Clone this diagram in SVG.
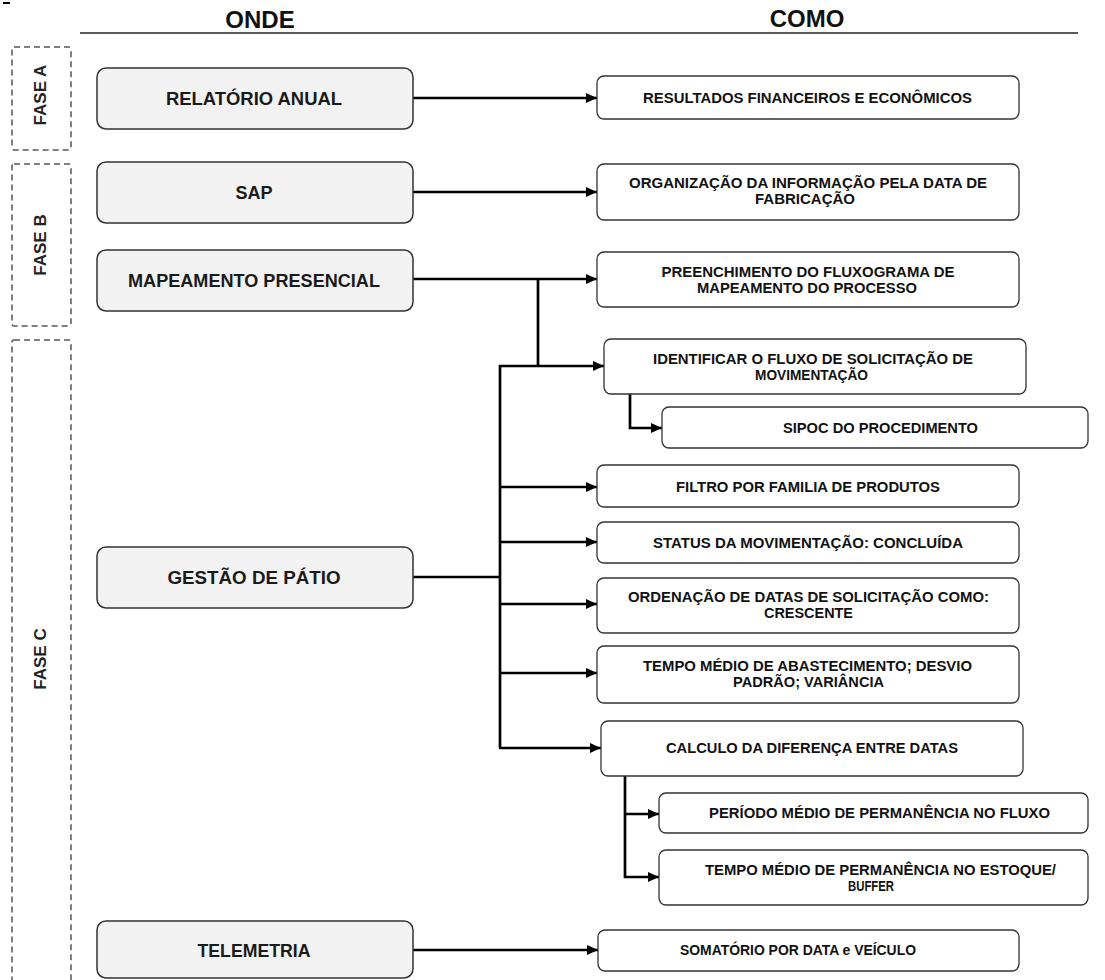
<svg xmlns="http://www.w3.org/2000/svg" width="1105" height="980" viewBox="0 0 1105 980">
<style>
.hdr{font-family:"Liberation Sans",Arial,sans-serif;font-weight:bold;font-size:24px;fill:#111;text-anchor:middle}
.phase{fill:none;stroke:#555;stroke-width:1.5;stroke-dasharray:6 4}
.ph{font-family:"Liberation Sans",Arial,sans-serif;font-weight:bold;font-size:17px;fill:#222;text-anchor:middle}
.lbox{fill:#f2f2f2;stroke:#333;stroke-width:1.5}
.rbox{fill:#fff;stroke:#333;stroke-width:1.3}
.lt{font-family:"Liberation Sans",Arial,sans-serif;font-weight:bold;font-size:18px;fill:#1a1a1a;text-anchor:middle}
.rt{font-family:"Liberation Sans",Arial,sans-serif;font-weight:bold;font-size:14px;fill:#111;text-anchor:middle}
.con{fill:none;stroke:#000;stroke-width:2.7}
</style>
<defs>
<marker id="ah" markerUnits="userSpaceOnUse" markerWidth="12" markerHeight="10" refX="11" refY="5" orient="auto">
<path d="M0,0 L11,5 L0,10 z" fill="#000"/>
</marker>
</defs>
<rect x="0" y="0" width="1105" height="980" fill="#fff"/>
<rect x="3" y="2" width="7" height="2" fill="#000"/>
<g id="header">
<text class="hdr" x="260" y="28">ONDE</text>
<text class="hdr" x="807" y="27">COMO</text>
<line x1="80" y1="33" x2="1078" y2="33" stroke="#222" stroke-width="1.5"/>
</g>
<g id="faseA">
<rect class="phase" x="12" y="47" width="59" height="103" rx="2"/>
<text class="ph" transform="translate(46,95) rotate(-90)">FASE A</text>
</g>
<g id="faseB">
<rect class="phase" x="12" y="164" width="59" height="162" rx="2"/>
<text class="ph" transform="translate(46,245) rotate(-90)">FASE B</text>
</g>
<g id="faseC">
<rect class="phase" x="12" y="340" width="59" height="660" rx="2"/>
<text class="ph" transform="translate(46,659) rotate(-90)">FASE C</text>
</g>
<g id="connectors">
<path class="con" d="M413,98 H597" marker-end="url(#ah)"/>
<path class="con" d="M413,192 H597" marker-end="url(#ah)"/>
<path class="con" d="M413,279 H597" marker-end="url(#ah)"/>
<path class="con" d="M538,279 V366"/>
<path class="con" d="M413,577 H500"/>
<path class="con" d="M500,748 V366 H604" marker-end="url(#ah)"/>
<path class="con" d="M630,394 V428 H662" marker-end="url(#ah)"/>
<path class="con" d="M500,487 H597" marker-end="url(#ah)"/>
<path class="con" d="M500,542 H597" marker-end="url(#ah)"/>
<path class="con" d="M500,604 H597" marker-end="url(#ah)"/>
<path class="con" d="M500,673 H597" marker-end="url(#ah)"/>
<path class="con" d="M499,748 H601" marker-end="url(#ah)"/>
<path class="con" d="M625,776 V877 H659" marker-end="url(#ah)"/>
<path class="con" d="M625,814 H659" marker-end="url(#ah)"/>
<path class="con" d="M413,950 H598" marker-end="url(#ah)"/>
</g>
<g id="relatorio">
<rect class="lbox" x="97" y="68" width="316" height="61" rx="9"/>
<text class="lt" x="254" y="105" textLength="176" lengthAdjust="spacingAndGlyphs">RELATÓRIO ANUAL</text>
</g>
<g id="sap">
<rect class="lbox" x="97" y="162" width="316" height="61" rx="9"/>
<text class="lt" x="254" y="199">SAP</text>
</g>
<g id="mapeamento">
<rect class="lbox" x="97" y="250" width="316" height="61" rx="9"/>
<text class="lt" x="254" y="287" textLength="252" lengthAdjust="spacingAndGlyphs">MAPEAMENTO PRESENCIAL</text>
</g>
<g id="gestao">
<rect class="lbox" x="97" y="547" width="316" height="61" rx="9"/>
<text class="lt" x="254" y="584" textLength="173" lengthAdjust="spacingAndGlyphs">GESTÃO DE PÁTIO</text>
</g>
<g id="telemetria">
<rect class="lbox" x="97" y="921" width="316" height="57" rx="9"/>
<text class="lt" x="254" y="957" textLength="113" lengthAdjust="spacingAndGlyphs">TELEMETRIA</text>
</g>
<g id="resultados">
<rect class="rbox" x="597" y="76" width="422" height="43" rx="7"/>
<text class="rt" x="807.5" y="103" textLength="329" lengthAdjust="spacingAndGlyphs">RESULTADOS FINANCEIROS E ECONÔMICOS</text>
</g>
<g id="organizacao">
<rect class="rbox" x="597" y="164" width="422" height="56" rx="7"/>
<text class="rt" x="808" y="188" textLength="358" lengthAdjust="spacingAndGlyphs">ORGANIZAÇÃO DA INFORMAÇÃO PELA DATA DE</text>
<text class="rt" x="805" y="204" textLength="100" lengthAdjust="spacingAndGlyphs">FABRICAÇÃO</text>
</g>
<g id="preenchimento">
<rect class="rbox" x="597" y="252" width="422" height="55" rx="7"/>
<text class="rt" x="808" y="277" textLength="293" lengthAdjust="spacingAndGlyphs">PREENCHIMENTO DO FLUXOGRAMA DE</text>
<text class="rt" x="807" y="293" textLength="220" lengthAdjust="spacingAndGlyphs">MAPEAMENTO DO PROCESSO</text>
</g>
<g id="identificar">
<rect class="rbox" x="604" y="339" width="422" height="55" rx="7"/>
<text class="rt" x="813" y="364" textLength="320" lengthAdjust="spacingAndGlyphs">IDENTIFICAR O FLUXO DE SOLICITAÇÃO DE</text>
<text class="rt" x="811.5" y="380" textLength="113" lengthAdjust="spacingAndGlyphs">MOVIMENTAÇÃO</text>
</g>
<g id="sipoc">
<rect class="rbox" x="662" y="407" width="426" height="41" rx="7"/>
<text class="rt" x="880.5" y="433" textLength="195" lengthAdjust="spacingAndGlyphs">SIPOC DO PROCEDIMENTO</text>
</g>
<g id="filtro">
<rect class="rbox" x="597" y="465" width="422" height="42" rx="7"/>
<text class="rt" x="808" y="492" textLength="264" lengthAdjust="spacingAndGlyphs">FILTRO POR FAMILIA DE PRODUTOS</text>
</g>
<g id="status">
<rect class="rbox" x="597" y="522" width="422" height="41" rx="7"/>
<text class="rt" x="808" y="548" textLength="310" lengthAdjust="spacingAndGlyphs">STATUS DA MOVIMENTAÇÃO: CONCLUÍDA</text>
</g>
<g id="ordenacao">
<rect class="rbox" x="597" y="578" width="422" height="55" rx="7"/>
<text class="rt" x="808.5" y="602" textLength="361" lengthAdjust="spacingAndGlyphs">ORDENAÇÃO DE DATAS DE SOLICITAÇÃO COMO:</text>
<text class="rt" x="808.5" y="618" textLength="89" lengthAdjust="spacingAndGlyphs">CRESCENTE</text>
</g>
<g id="abastecimento">
<rect class="rbox" x="597" y="646" width="422" height="57" rx="7"/>
<text class="rt" x="807.5" y="671" textLength="329" lengthAdjust="spacingAndGlyphs">TEMPO MÉDIO DE ABASTECIMENTO; DESVIO</text>
<text class="rt" x="808.5" y="687" textLength="151" lengthAdjust="spacingAndGlyphs">PADRÃO; VARIÂNCIA</text>
</g>
<g id="calculo">
<rect class="rbox" x="601" y="721" width="422" height="55" rx="7"/>
<text class="rt" x="812" y="753" textLength="292" lengthAdjust="spacingAndGlyphs">CALCULO DA DIFERENÇA ENTRE DATAS</text>
</g>
<g id="periodo">
<rect class="rbox" x="659" y="793" width="429" height="40" rx="7"/>
<text class="rt" x="879.5" y="818" textLength="341" lengthAdjust="spacingAndGlyphs">PERÍODO MÉDIO DE PERMANÊNCIA NO FLUXO</text>
</g>
<g id="permanencia">
<rect class="rbox" x="659" y="850" width="429" height="55" rx="7"/>
<text class="rt" x="880.5" y="875" textLength="351" lengthAdjust="spacingAndGlyphs">TEMPO MÉDIO DE PERMANÊNCIA NO ESTOQUE/</text>
<text class="rt" x="871" y="891" textLength="46" lengthAdjust="spacingAndGlyphs">BUFFER</text>
</g>
<g id="somatorio">
<rect class="rbox" x="598" y="930" width="421" height="41" rx="7"/>
<text class="rt" x="798" y="955" textLength="236" lengthAdjust="spacingAndGlyphs">SOMATÓRIO POR DATA e VEÍCULO</text>
</g>
</svg>
